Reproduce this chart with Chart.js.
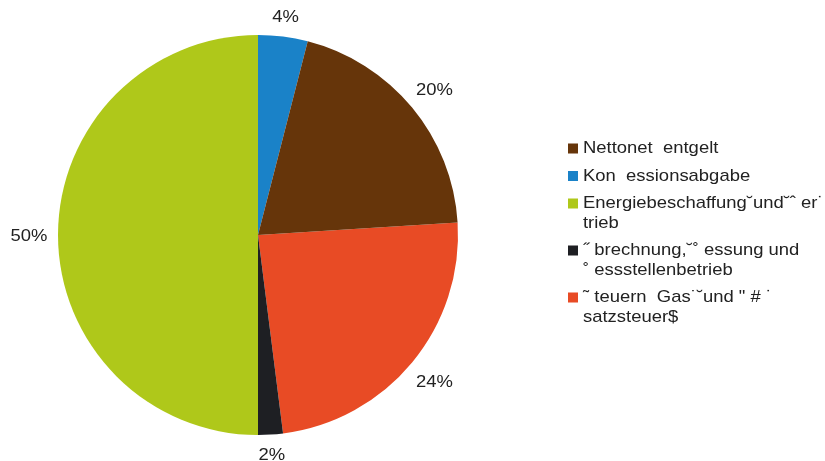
<!DOCTYPE html>
<html>
<head>
<meta charset="utf-8">
<script src="https://cdn.jsdelivr.net/npm/chart.js@4"></script>
<style>
  html, body { margin: 0; padding: 0; background: #fff; }
  #wrap { width: 825px; height: 461px; }
</style>
</head>
<body>
<div id="wrap"><canvas id="pie"></canvas></div>
<script>
// legend order (top to bottom)
const categories = [
  ['Nettonet  entgelt'],
  ['Kon  essionsabgabe'],
  ['Energiebeschaffung\u02D8und\u02D8\u02C6 er\u02D9', 'trieb'],
  ['\u02DD brechnung,\u02D8\u02DA essung und', '\u02DA essstellenbetrieb'],
  ['\u02DC teuern  Gas\u02D9\u02D8und " # \u02D9', 'satzsteuer$']
];
const shares = [20, 4, 50, 2, 24];
const colors = ['#66350a', '#1a82c8', '#afc81a', '#1e1f23', '#e84b25'];

// slices run the other way round than the legend, first slice starts after the last legend entry
const order = shares.map((_, i) => shares.length - 1 - i);
const startAngle = shares[shares.length - 1] / 100 * 360;

const labelFont = '17px "Liberation Sans", Arial, sans-serif';
const stretch = 1.085;

function wideText(ctx, text, x, y, align) {
  ctx.save();
  ctx.translate(x, y);
  ctx.scale(stretch, 1);
  ctx.textAlign = align;
  ctx.fillText(text, 0, 0);
  ctx.restore();
}

const pieExtras = {
  id: 'pieExtras',
  afterDraw(chart) {
    const ctx = chart.ctx;
    const meta = chart.getDatasetMeta(0);
    const values = chart.data.datasets[0].data;
    ctx.save();
    ctx.font = labelFont;
    ctx.fillStyle = '#222';
    ctx.textBaseline = 'middle';
    meta.data.forEach((arc, i) => {
      const mid = (arc.startAngle + arc.endAngle) / 2;
      const off = 19 + 10 * Math.min(1, 1.3 * Math.abs(Math.cos(mid)));
      const r = arc.outerRadius + off;
      wideText(ctx, values[i] + '%', arc.x + Math.cos(mid) * r, arc.y + Math.sin(mid) * r + 1, 'center');
    });

    // legend
    let y = 148.5;
    const x = 568;
    categories.forEach((lines, i) => {
      ctx.fillStyle = colors[i];
      ctx.fillRect(x, y - 5, 10, 10);
      ctx.fillStyle = '#222';
      lines.forEach((t, j) => wideText(ctx, t, x + 15, y + j * 19.5, 'left'));
      y += 27.5 + (lines.length - 1) * 19.5;
    });
    ctx.restore();
  }
};

new Chart(document.getElementById('pie'), {
  type: 'pie',
  data: {
    labels: order.map(i => categories[i].join(' ')),
    datasets: [{
      data: order.map(i => shares[i]),
      backgroundColor: order.map(i => colors[i]),
      borderWidth: 0
    }]
  },
  options: {
    responsive: true,
    maintainAspectRatio: false,
    animation: false,
    rotation: startAngle,
    layout: { padding: { left: 58, right: 367, top: 35, bottom: 26 } },
    plugins: {
      legend: { display: false },
      tooltip: { enabled: false }
    }
  },
  plugins: [pieExtras]
});
</script>
</body>
</html>
